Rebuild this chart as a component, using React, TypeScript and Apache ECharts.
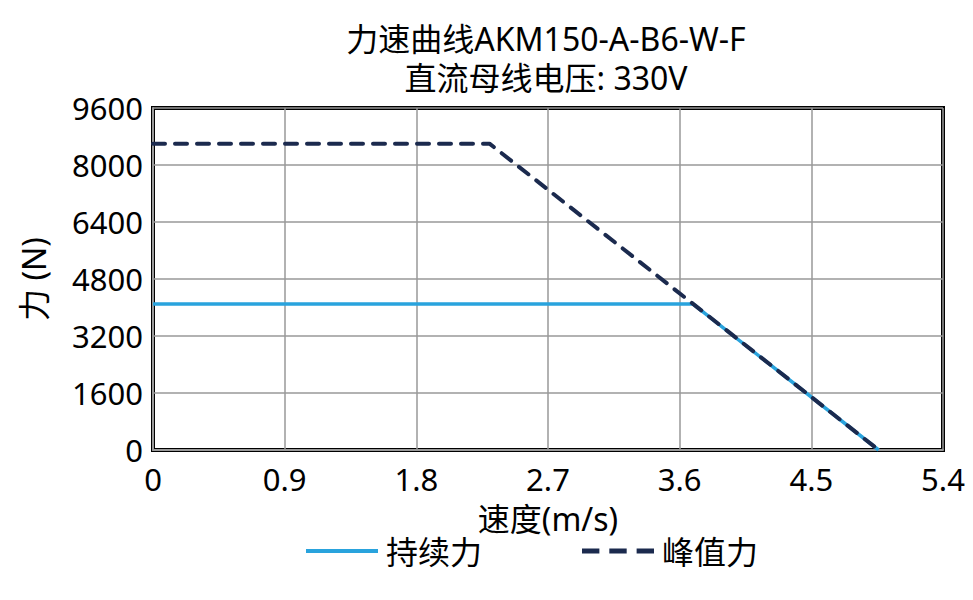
import React, { useEffect, useRef } from "react";
import * as echarts from "echarts";

const titleLines = ["力速曲线AKM150-A-B6-W-F", "直流母线电压: 330V"];
const seriesNames = ["持续力", "峰值力"];
const contSpeed = [0, 3.69, 4.96];
const contForce = [4100, 4100, 0];
const peakSpeed = [0, 2.3, 4.96];
const peakForce = [8600, 8600, 0];
const xTicks = { min: 0, max: 5.4, interval: 0.9 };
const yTicks = { min: 0, max: 9600, interval: 1600 };

const FONT = "'Noto Sans', 'Noto Sans CJK SC', sans-serif";

export default function App() {
  const ref = useRef<HTMLDivElement>(null);
  useEffect(() => {
    if (!ref.current) return;
    const chart = echarts.init(ref.current, undefined, { renderer: "svg" });
    const pair = (xs: number[], ys: number[]) => xs.map((x, i) => [x, ys[i]]);
    const titleStyle = { fontFamily: FONT, fontSize: 32, fontWeight: "normal", color: "#000", lineHeight: 36 };
    chart.setOption({
      animation: false,
      backgroundColor: "#fff",
      textStyle: { fontFamily: FONT },
      title: [
        { text: titleLines[0], left: 546, textAlign: "center", top: 20, padding: 0, textStyle: titleStyle },
        { text: titleLines[1], left: 546, textAlign: "center", top: 59, padding: 0, textStyle: titleStyle },
      ],
      legend: {
        left: 306,
        top: 535,
        padding: 0,
        itemWidth: 72,
        itemHeight: 14,
        itemGap: 100,
        textStyle: { fontFamily: FONT, fontSize: 32, color: "#000", padding: [0, 0, 0, 3] },
        data: [
          { name: seriesNames[0], icon: "path://M0,0H72V4H0Z" },
          { name: seriesNames[1], icon: "path://M0,0H14V4H0Z M22,0H36V4H22Z M44,0H58V4H44Z" },
        ],
      },
      grid: {
        left: 153,
        right: 30,
        top: 108,
        bottom: 150,
        show: true,
        borderColor: "#000",
        borderWidth: 4,
      },
      xAxis: {
        type: "value",
        min: xTicks.min,
        max: xTicks.max,
        interval: xTicks.interval,
        name: "速度(m/s)",
        nameLocation: "middle",
        nameGap: 52,
        nameTextStyle: { fontFamily: FONT, fontSize: 32, color: "#000", lineHeight: 32 },
        axisLine: { show: true, lineStyle: { color: "#999", width: 2 } },
        axisTick: { show: false },
        axisLabel: {
          fontFamily: FONT,
          fontSize: 31,
          lineHeight: 31,
          color: "#000",
          margin: 13,
          formatter: (v: number) => String(+v.toFixed(1)),
        },
        splitLine: { show: true, lineStyle: { color: "#999", width: 1.5 } },
      },
      yAxis: {
        type: "value",
        min: yTicks.min,
        max: yTicks.max,
        interval: yTicks.interval,
        name: "力 (N)",
        nameLocation: "middle",
        nameGap: 104,
        nameTextStyle: { fontFamily: FONT, fontSize: 32, color: "#000" },
        axisLine: { show: true, lineStyle: { color: "#999", width: 2 } },
        axisTick: { show: false },
        axisLabel: { fontFamily: FONT, fontSize: 31, color: "#000", margin: 10, formatter: (v: number) => String(v) },
        splitLine: { show: true, lineStyle: { color: "#999", width: 1.5 } },
      },
      series: [
        {
          name: seriesNames[0],
          type: "line",
          data: pair(contSpeed, contForce),
          showSymbol: false,
          symbol: "none",
          color: "#29A3DD",
          lineStyle: { color: "#29A3DD", width: 3.5 },
          z: 2,
        },
        {
          name: seriesNames[1],
          type: "line",
          data: pair(peakSpeed, peakForce),
          showSymbol: false,
          symbol: "none",
          color: "#1B2A4E",
          lineStyle: { color: "#1B2A4E", width: 4, type: [12, 10], cap: "round" },
          z: 3,
        },
      ],
    });
    return () => chart.dispose();
  }, []);
  return <div ref={ref} style={{ position: "fixed", left: 0, top: 0, width: 973, height: 600 }} />;
}
